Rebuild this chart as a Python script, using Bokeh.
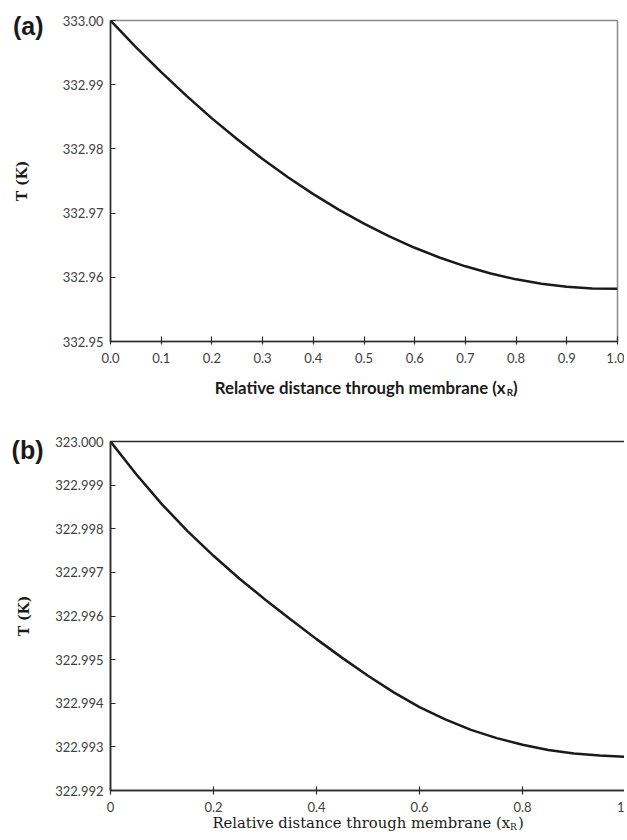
from bokeh.plotting import figure
from bokeh.layouts import column
from bokeh.models import FixedTicker, PrintfTickFormatter, Range1d, LinearAxis
from bokeh.embed import file_html
from bokeh.resources import INLINE

# ---------------- data ----------------
x_a = [0.00, 0.05, 0.10, 0.15, 0.20, 0.25, 0.30, 0.35, 0.40, 0.45, 0.50,
       0.55, 0.60, 0.65, 0.70, 0.75, 0.80, 0.85, 0.90, 0.95, 1.00]
T_a = [333.00000, 332.99587, 332.99195, 332.98825, 332.98476, 332.98149,
       332.97843, 332.97559, 332.97296, 332.97055, 332.96835, 332.96637,
       332.96460, 332.96305, 332.96171, 332.96059, 332.95968, 332.95899,
       332.95851, 332.95825, 332.95820]

x_b = [0.00, 0.05, 0.10, 0.15, 0.20, 0.25, 0.30, 0.35, 0.40, 0.45, 0.50,
       0.55, 0.60, 0.65, 0.70, 0.75, 0.80, 0.85, 0.90, 0.95, 1.00]
T_b = [323.00000, 322.99925, 322.99856, 322.99794, 322.99738, 322.99686,
       322.99638, 322.99592, 322.99547, 322.99504, 322.99463, 322.99425,
       322.99391, 322.99363, 322.99339, 322.99320, 322.99305, 322.99293,
       322.99285, 322.99280, 322.99277]

xticks_a = [0.0, 0.1, 0.2, 0.3, 0.4, 0.5, 0.6, 0.7, 0.8, 0.9, 1.0]
yticks_a = [332.95, 332.96, 332.97, 332.98, 332.99, 333.00]
xticks_b = [0.0, 0.2, 0.4, 0.6, 0.8, 1.0]
xtick_labels_b = ["0", "0.2", "0.4", "0.6", "0.8", "1"]
yticks_b = [322.992, 322.993, 322.994, 322.995, 322.996, 322.997, 322.998,
            322.999, 323.000]

x_title = "Relative distance through membrane (x"
x_title_sub = "R"
x_title_end = ")"
y_title = "T (K)"
panel_a = "(a)"
panel_b = "(b)"

DARK = "#2b2b2b"
TICKC = "#404040"
TXT = "#1a1a1a"


def style_axes(p, ylab_standoff):
    for ax in (p.xaxis[0], p.yaxis[0]):
        ax.axis_line_color = DARK
        ax.axis_line_width = 1.5
        ax.major_tick_line_color = DARK
        ax.major_tick_line_width = 1.2
        ax.minor_tick_line_color = None
        ax.major_label_text_color = TICKC
        ax.major_label_text_font_size = "13px"
        ax.major_label_text_font = "Lato"
    p.xgrid.grid_line_color = None
    p.ygrid.grid_line_color = None
    p.xaxis.major_tick_in = 5
    p.xaxis.major_tick_out = 3
    p.yaxis.major_tick_in = 5
    p.yaxis.major_tick_out = 0
    p.yaxis.major_label_standoff = 7
    p.xaxis.major_label_standoff = 8
    p.yaxis.axis_label = y_title
    p.yaxis.axis_label_text_font = "DejaVu Serif"
    p.yaxis.axis_label_text_font_style = "bold"
    p.yaxis.axis_label_text_font_size = "14px"
    p.yaxis.axis_label_text_color = TXT
    p.yaxis.axis_label_standoff = ylab_standoff


def text_axis(p, side, ticks, labels, font, size, style, standoff):
    ax = LinearAxis(ticker=FixedTicker(ticks=ticks),
                    major_label_overrides={t: s for t, s in zip(ticks, labels)})
    ax.axis_line_color = None
    ax.major_tick_line_color = None
    ax.minor_tick_line_color = None
    ax.major_tick_in = 0
    ax.major_tick_out = 0
    ax.major_label_text_font = font
    ax.major_label_text_font_size = size
    ax.major_label_text_font_style = style
    ax.major_label_text_color = TXT
    ax.major_label_standoff = standoff
    p.add_layout(ax, side)
    return ax


# ---------------- panel (a) ----------------
pa = figure(frame_width=507, frame_height=321, output_backend="svg",
            toolbar_location=None, x_range=Range1d(0, 1),
            y_range=Range1d(332.95, 333.00),
            min_border_left=110, min_border_right=7, min_border_top=20,
            min_border_bottom=69, background_fill_color="white",
            border_fill_color="white")
style_axes(pa, 30)
pa.xaxis.ticker = FixedTicker(ticks=xticks_a)
pa.xaxis.formatter = PrintfTickFormatter(format="%.1f")
pa.yaxis.ticker = FixedTicker(ticks=yticks_a)
pa.yaxis.formatter = PrintfTickFormatter(format="%.2f")
pa.outline_line_color = "#8a8a8a"
pa.outline_line_width = 1.5
pa.line(x_a, T_a, line_color=TXT, line_width=2.5)

# x-axis title (main text + closing bracket, then subscript), panel letter
text_axis(pa, "below", [0.4924, 0.7983], [x_title, x_title_end], "Lato", "16.8px", "bold", 11)
text_axis(pa, "below", [0.7878], [x_title_sub], "Lato", "10px", "bold", -15)
text_axis(pa, "left", [332.9991], [panel_a], "Liberation Sans", "25px", "bold", -33)

# ---------------- panel (b) ----------------
pb = figure(frame_width=515, frame_height=349, output_backend="svg",
            toolbar_location=None, x_range=Range1d(0, 1),
            y_range=Range1d(322.992, 323.000),
            min_border_left=107, min_border_right=2, min_border_top=31,
            min_border_bottom=44, background_fill_color="white",
            border_fill_color="white")
style_axes(pb, 20)
pb.xaxis.ticker = FixedTicker(ticks=xticks_b)
pb.xaxis.major_label_overrides = {t: s for t, s in zip(xticks_b, xtick_labels_b)}
pb.yaxis.ticker = FixedTicker(ticks=yticks_b)
pb.yaxis.formatter = PrintfTickFormatter(format="%.3f")
pb.xaxis.major_tick_in = 4
pb.xaxis.major_tick_out = 4
pb.xaxis.major_label_standoff = 7
pb.outline_line_color = DARK
pb.outline_line_width = 1.5
pb.line(x_b, T_b, line_color=TXT, line_width=2.5)

text_axis(pb, "below", [0.487, 0.7967], [x_title, x_title_end], "DejaVu Serif", "14.8px", "normal", -1)
text_axis(pb, "below", [0.7825], [x_title_sub], "DejaVu Serif", "9px", "normal", -12)
text_axis(pb, "left", [322.9998], [panel_b], "Liberation Sans", "25px", "bold", -30)

layout = column(pa, pb)
open("out.html", "w").write(file_html(layout, INLINE))
